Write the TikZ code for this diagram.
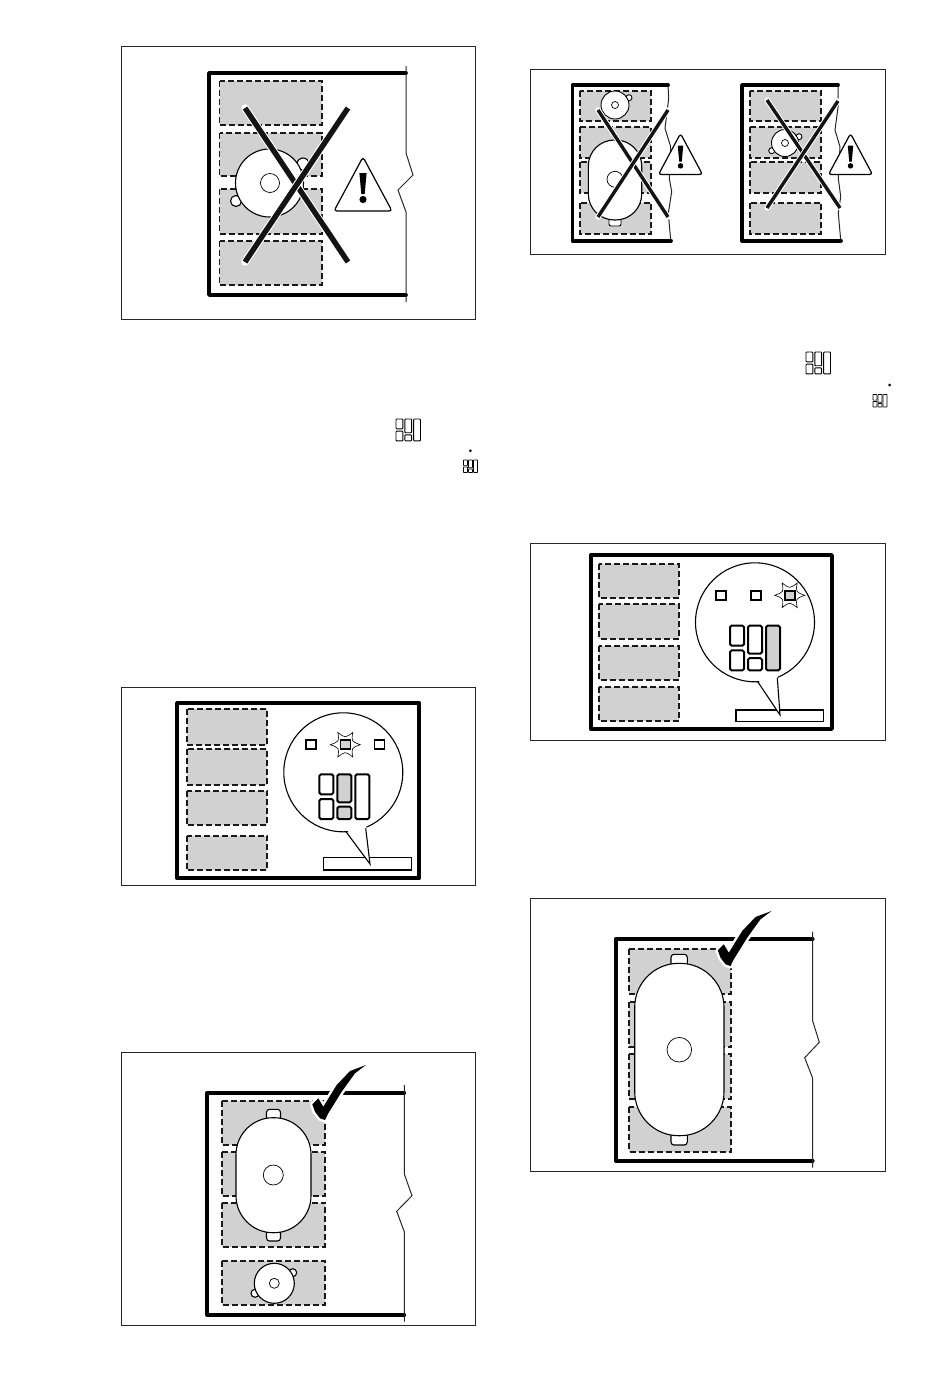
\documentclass[tikz,border=0pt]{standalone}
\usepackage{tikz}

% #1 xshift, #2 yshift, #3 scale, #4 line width, #5 fill of middle column, #6 fill of last column
\newcommand{\keypad}[6]{
\begin{scope}[shift={(#1,#2)},scale=#3,line width=#4,rounded corners=#3*1.6pt]
\draw[fill=white] (0,0) rectangle (14,20);
\draw[fill=white] (0,24.7) rectangle (14,44.7);
\draw[fill=#5] (18,0) rectangle (32,28);
\draw[fill=#5] (18,32.4) rectangle (32,44.7);
\draw[fill=#6] (36,0) rectangle (50,44.7);
\end{scope}}

% #1 middle x, #2 y of apex, #3 scale
\newcommand{\warnsign}[3]{
\begin{scope}[shift={(#1,#2)},scale=#3]
\draw[fill=white,line width=1.2pt,rounded corners=3pt] (0,-1) -- (29,53) -- (-29,53) -- cycle;
\fill (-3.6,15) -- (3.6,15) -- (1.7,36) -- (-1.7,36) -- cycle;
\fill (0,41.5) circle (3.6);
\end{scope}}

% #1 xshift, #2 yshift
\newcommand{\tickmark}[2]{
\begin{scope}[shift={(#1,#2)}]
\path[draw=white,line width=5pt,line join=round,fill=white] (312.3,1104.3) -- (318.3,1098.3) -- (323.3,1106.7) -- (336.7,1085) -- (350,1071) -- (366,1065) -- (355,1073.3) -- (341.7,1091.7) -- (328.3,1113.3) -- (325,1120) -- (320,1118.3) -- (315,1111.7) -- cycle;
\fill (312.3,1104.3) -- (318.3,1098.3) -- (323.3,1106.7) -- (336.7,1085) -- (350,1071) -- (366,1065) -- (355,1073.3) -- (341.7,1091.7) -- (328.3,1113.3) -- (325,1120) -- (320,1118.3) -- (315,1111.7) -- cycle;
\end{scope}}

% #1 xshift, #2 yshift: burst round the lit square
\newcommand{\burst}[2]{
\draw[shift={(#1,#2)},line width=0.6pt,fill=white] (-15,0) .. controls (-6,-3.3) .. (-7.5,-12.3) .. controls (0,-6.5) .. (7.5,-12.3) .. controls (6,-3.3) .. (15,0) .. controls (6,3.3) .. (7.5,12.3) .. controls (0,6.5) .. (-7.5,12.3) .. controls (-6,3.3) .. (-15,0) -- cycle;}

\begin{document}
\begin{tikzpicture}[x=1pt,y=-1pt]
\tikzstyle{panel}=[draw=black!85,line width=0.9pt]
\tikzstyle{wall}=[line width=3.8pt,line cap=round,line join=round]
\tikzstyle{edge}=[line width=1pt,black!85]
\tikzstyle{zone}=[fill=black!18,draw=black!90,line width=1.9pt,dash pattern=on 6pt off 3pt]
\tikzstyle{hob}=[fill=white,draw=black,line width=1.1pt]
\tikzstyle{ring}=[draw=black,line width=0.7pt,fill=white]
\tikzstyle{lamp}=[draw=black,line width=1.6pt,fill=white]
\tikzstyle{halo}=[white,line width=7.5pt,line cap=round]
\tikzstyle{bar}=[black!92,line width=5.4pt]
\tikzstyle{thinhalo}=[white,line width=5.4pt,line cap=round]
\tikzstyle{thinbar}=[black!92,line width=3.4pt]
\useasboundingbox (0,0) rectangle (950,1374);

% top left
\draw[panel] (121,46) rectangle (475,319);
\draw[wall] (406,73) -- (209,73) -- (209,295) -- (406,295);
\draw[edge] (406,66) -- (406,153) -- (413,175) -- (398,190) -- (406,212) -- (406,302);
\foreach \ya/\yb in {80.7/125,132.7/176,189/234,240.7/285}
  \draw[zone] (219.5,\ya) rectangle (322,\yb);
\draw[hob] (303,164) circle (6);
\draw[hob] (236,201) circle (5.5);
\draw[hob] (269.5,183) circle (34);
\draw[ring] (270,183) circle (9.5);
\draw[halo] (245,108) -- (348,262);
\draw[bar] (245,108) -- (348,262);
\draw[halo] (348,108) -- (245,262);
\draw[bar] (348,108) -- (245,262);
\warnsign{363}{158}{1}

% top right
\draw[panel] (530.5,69.5) rectangle (885.5,254);
\draw[edge] (668,85) -- (668.7,98.3) -- (665,128.3) -- (670.7,146.7) -- (669.3,178.3) -- (671.7,191.7) -- (668.3,213.3) -- (670.7,240);
\draw[wall] (668,85) -- (572.5,85) -- (572.5,240.7) -- (671,240.7);
\foreach \ya/\yb in {90.7/120.7,126.7/157.7,161.7/193.3,202.7/234}
  \draw[zone] (580,\ya) rectangle (651,\yb);
\draw[hob,line width=0.9pt] (629,97.7) circle (3);
\draw[hob,line width=0.9pt] (615,105) circle (14);
\draw[ring] (615,105) circle (3.5);
\draw[hob,line width=0.9pt,rounded corners=2pt] (609,215) rectangle (621,226);
\draw[hob,rounded corners=26pt] (588.3,140) rectangle (641.7,220);
\draw[ring] (615,179.3) circle (8);
\draw[thinhalo] (598,110) -- (668,217);
\draw[thinbar] (598,110) -- (668,217);
\draw[thinhalo] (668,110) -- (598,217);
\draw[thinbar] (668,110) -- (598,217);
\warnsign{680.5}{134.3}{0.76}
\draw[edge] (838,85) -- (838.3,105) -- (835,130) -- (840,146.7) -- (838.3,178.3) -- (840.7,196.7) -- (838.3,213.3) -- (840.7,240);
\draw[wall] (838,85) -- (742,85) -- (742,240.7) -- (841,240.7);
\foreach \ya/\yb in {90.7/120.7,126.7/157.7,161.7/193.3,202.7/234}
  \draw[zone] (750,\ya) rectangle (821,\yb);
\draw[hob,line width=0.9pt] (799,136.7) circle (3);
\draw[hob,line width=0.9pt] (771.7,150.7) circle (3);
\draw[hob,line width=0.9pt] (785,143) circle (13.5);
\draw[ring] (785,143) circle (3.5);
\draw[thinhalo] (767,100) -- (840,208);
\draw[thinbar] (767,100) -- (840,208);
\draw[thinhalo] (838,101) -- (767,208);
\draw[thinbar] (838,101) -- (767,208);
\warnsign{850.5}{134.3}{0.76}

% keypad icons between the panels
\keypad{396}{419}{0.49}{0.9pt}{white}{white}
\fill (470.3,450.7) circle (1.5);
\keypad{463.5}{460}{0.28}{0.7pt}{white}{white}
\keypad{806}{352}{0.49}{0.9pt}{white}{white}
\fill (889.5,385) circle (1.5);
\keypad{873}{394.5}{0.28}{0.7pt}{white}{white}

% left display panel
\draw[panel] (121,687) rectangle (475,885);
\draw[wall] (177.3,703.3) rectangle (419.3,878.3);
\foreach \ya/\yb in {709.3/745,749.3/785,790.7/825,835.7/870}
  \draw[zone] (186.7,\ya) rectangle (267.3,\yb);
\draw[lamp,line width=1.4pt] (323.7,857.7) rectangle (411.3,870);
\draw[hob] (343.3,772.3) circle (59.5);
\fill[white] (344.5,826) -- (370,864) -- (366,824) -- cycle;
\draw[hob,fill=none] (346,831.7) -- (370,864) -- (365.7,828.3);
\draw[lamp] (305.7,740) rectangle (315.7,749);
\burst{345.3}{744.7}
\draw[lamp,fill=black!18] (340.3,740) rectangle (350.3,749);
\draw[lamp] (374.3,740) rectangle (384.3,749);
\keypad{319.3}{774.3}{1}{2pt}{black!18}{white}

% right display panel
\draw[panel] (530,543) rectangle (885,740);
\draw[wall] (590.7,555) rectangle (832,729);
\foreach \ya/\yb in {564/598.3,604.3/639,645.7/680,686.7/721}
  \draw[zone] (599.3,\ya) rectangle (679,\yb);
\draw[lamp,line width=1.4pt] (736,710) rectangle (823.3,721.3);
\draw[hob] (755,622.3) circle (59.5);
\fill[white] (756,676) -- (780,715) -- (777.6,672) -- cycle;
\draw[hob,fill=none] (757.7,681.7) -- (780,715) -- (777.3,677.5);
\draw[lamp] (716,590.8) rectangle (726,599.8);
\draw[lamp] (750.7,590.8) rectangle (760.7,599.8);
\burst{789.7}{595.3}
\draw[lamp,fill=black!18] (784.7,590.8) rectangle (794.7,599.8);
\keypad{730}{625.7}{1}{2pt}{white}{black!18}

% bottom left
\draw[panel] (121,1052) rectangle (475,1325);
\draw[wall] (404.3,1092.7) -- (207.3,1092.7) -- (207.3,1315) -- (404.3,1315);
\draw[edge] (404.3,1085) -- (404.3,1174) -- (412,1195.7) -- (396.7,1211.3) -- (404.3,1231.7) -- (404.3,1321.7);
\foreach \ya/\yb in {1100.7/1145,1151.7/1196,1202.7/1246.7,1260.7/1305}
  \draw[zone] (222.3,\ya) rectangle (325,\yb);
\draw[hob,rounded corners=3pt] (266.5,1109.3) rectangle (280.5,1125);
\draw[hob,rounded corners=3pt] (266.5,1225) rectangle (280.5,1241);
\draw[hob,rounded corners=37pt] (236,1117.7) rectangle (311,1232.7);
\draw[ring] (273.3,1175) circle (10);
\draw[hob] (292.7,1272.7) circle (4);
\draw[hob] (255,1293.3) circle (4);
\draw[hob] (274.3,1283.3) circle (20);
\draw[ring] (274.3,1283.3) circle (5);
\tickmark{0}{0}

% bottom right
\draw[panel] (530,898) rectangle (885,1171);
\draw[wall] (812.7,939) -- (615.7,939) -- (615.7,1160.7) -- (812.7,1160.7);
\draw[edge] (812.7,931.7) -- (812.7,1021) -- (819.3,1042.3) -- (804.7,1057.7) -- (812.7,1078.3) -- (812.7,1167.7);
\foreach \ya/\yb in {949.3/994,1002.3/1047.3,1054.3/1099,1107.3/1151.7}
  \draw[zone] (629,\ya) rectangle (731.3,\yb);
\draw[hob,rounded corners=3pt] (671,954.3) rectangle (687.3,970);
\draw[hob,rounded corners=3pt] (671,1130) rectangle (687.3,1145);
\draw[hob,rounded corners=44pt] (634.7,963.3) rectangle (724,1135.7);
\draw[ring] (679.3,1049.7) circle (12.3);
\tickmark{405.5}{-154}
\end{tikzpicture}
\end{document}
